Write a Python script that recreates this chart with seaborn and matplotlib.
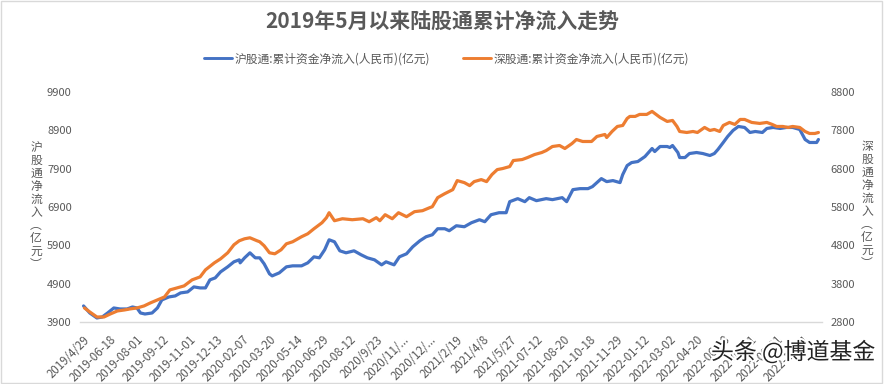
import matplotlib
matplotlib.use("Agg")
import matplotlib.pyplot as plt
import matplotlib.patheffects as pe
from matplotlib.patches import Rectangle
from matplotlib.lines import Line2D
import pandas as pd
import seaborn as sns

# trading-day index -> cumulative net inflow (亿元)
sh_day = [1, 8, 16, 22, 28, 35, 42, 50, 56, 61, 65, 70, 78, 84, 89, 97, 104, 110, 118, 125,
          132, 138, 143, 149, 155, 163, 170, 176, 177, 182, 188, 194, 199, 204, 210, 213, 221,
          229, 236, 246, 253, 260, 266, 272, 277, 283, 289, 296, 305, 313, 320, 328, 336, 341,
          350, 356, 364, 371, 379, 386, 393, 399, 407, 412, 420, 429, 437, 446, 452, 459, 468,
          476, 480, 489, 497, 502, 510, 521, 528, 539, 544, 551, 559, 568, 573, 583, 589, 596,
          604, 607, 612, 617, 624, 632, 640, 643, 649, 657, 660, 663, 669, 671, 677, 682, 690,
          697, 705, 710, 714, 720, 725, 731, 737, 744, 750, 756, 764, 769, 776, 784, 791, 798,
          806, 812, 817, 825, 827]
sh_flow = [4319, 4135, 4005, 4031, 4135, 4266, 4240, 4240, 4292, 4266, 4135, 4109, 4135, 4266,
           4476, 4554, 4580, 4659, 4685, 4816, 4789, 4789, 4999, 5051, 5208, 5339, 5470, 5522,
           5443, 5574, 5705, 5574, 5574, 5417, 5156, 5103, 5182, 5339, 5365, 5365, 5443, 5600,
           5574, 5784, 6045, 5993, 5757, 5705, 5757, 5653, 5574, 5522, 5391, 5470, 5391, 5600,
           5679, 5862, 6019, 6124, 6176, 6333, 6333, 6281, 6411, 6385, 6490, 6568, 6516, 6699,
           6751, 6751, 7039, 7118, 7039, 7144, 7065, 7118, 7092, 7144, 7039, 7353, 7379, 7379,
           7432, 7641, 7562, 7589, 7536, 7745, 7981, 8059, 8086, 8216, 8426, 8347, 8478, 8478,
           8452, 8504, 8321, 8190, 8190, 8295, 8321, 8295, 8243, 8295, 8400, 8583, 8740, 8897,
           9001, 8975, 8844, 8870, 8844, 8949, 8975, 8949, 8975, 8975, 8923, 8661, 8583, 8583,
           8661]

sz_day = [2, 8, 16, 24, 31, 39, 47, 53, 61, 69, 76, 84, 92, 98, 106, 114, 123, 132, 138, 148,
          155, 163, 170, 176, 182, 188, 196, 199, 204, 210, 216, 223, 229, 236, 246, 253, 260,
          269, 274, 277, 283, 292, 303, 315, 322, 330, 334, 340, 348, 355, 364, 373, 382, 390,
          393, 399, 407, 416, 421, 429, 435, 440, 448, 454, 460, 466, 472, 480, 484, 494, 500,
          508, 516, 521, 528, 536, 542, 550, 555, 562, 572, 578, 587, 589, 595, 601, 607, 612,
          615, 621, 626, 634, 640, 643, 649, 657, 663, 668, 671, 679, 686, 691, 699, 705, 710,
          716, 720, 727, 733, 739, 744, 752, 761, 769, 775, 780, 787, 793, 798, 806, 812, 817,
          823, 827]
sz_flow = [3166, 3062, 2931, 2931, 3009, 3088, 3114, 3140, 3166, 3219, 3297, 3376, 3454, 3637,
           3689, 3742, 3899, 3977, 4160, 4343, 4448, 4605, 4814, 4919, 4971, 4997, 4919, 4893,
           4788, 4605, 4579, 4684, 4840, 4893, 5024, 5102, 5233, 5390, 5521, 5651, 5442, 5494,
           5468, 5494, 5416, 5521, 5442, 5599, 5494, 5651, 5547, 5678, 5704, 5782, 5808, 6044,
           6148, 6253, 6489, 6436, 6358, 6462, 6515, 6462, 6646, 6776, 6803, 6855, 7012, 7038,
           7090, 7169, 7221, 7273, 7378, 7404, 7326, 7456, 7561, 7509, 7509, 7640, 7692, 7613,
           7770, 7901, 7927, 8110, 8163, 8163, 8215, 8215, 8294, 8241, 8137, 8032, 8058, 7901,
           7770, 7744, 7770, 7744, 7875, 7797, 7823, 7770, 7927, 8006, 7954, 8084, 8084, 8006,
           7980, 8006, 7954, 7901, 7901, 7875, 7901, 7875, 7770, 7718, 7718, 7744]

tick_labels = ["2019/4/29", "2019-06-18", "2019-08-01", "2019-09-12", "2019-11-01",
               "2019-12-13", "2020-02-07", "2020-03-20", "2020-05-14", "2020-06-29",
               "2020-08-12", "2020/9/23", "2020/11/...", "2020/12/...", "2021/2/19",
               "2021/4/8", "2021/5/27", "2021-07-12", "2021-08-20", "2021-10-18",
               "2021-11-29", "2022-01-12", "2022-03-02", "2022-04-20", "2022-06-08",
               "2022-07-21", "2022-09-01", "2022-10-21"]
left_ticks = [3900, 4900, 5900, 6900, 7900, 8900, 9900]
right_ticks = [2800, 3800, 4800, 5800, 6800, 7800, 8800]

sh_name = "沪股通:累计资金净流入(人民币)(亿元)"
sz_name = "深股通:累计资金净流入(人民币)(亿元)"

sns.set_style("white")
plt.rcParams["font.family"] = ["Noto Sans CJK SC", "DejaVu Sans"]

BLUE = "#4472C4"
ORANGE = "#ED7D31"
GREY = "#595959"

fig = plt.figure(figsize=(8.84, 3.84), dpi=100)
ax = fig.add_axes([80 / 884, 1 - 322 / 384, 742 / 884, 230 / 384])
ax2 = ax.twinx()

sh_df = pd.DataFrame({"day": sh_day, "flow": sh_flow})
sz_df = pd.DataFrame({"day": sz_day, "flow": sz_flow})
sns.lineplot(data=sh_df, x="day", y="flow", ax=ax, color=BLUE, lw=2.3, legend=False)
sns.lineplot(data=sz_df, x="day", y="flow", ax=ax2, color=ORANGE, lw=2.3, legend=False)

ax.set_xlim(-3, 831)
ax.set_ylim(3900, 9900)
ax2.set_ylim(2800, 8800)
ax.set_yticks(left_ticks)
ax2.set_yticks(right_ticks)
ax.set_xticks(range(0, 30 * len(tick_labels), 30))
ax.set_xticklabels(tick_labels, rotation=45, ha="right", va="top",
                   rotation_mode="anchor", fontsize=8.3, color=GREY)
ax.set_xlabel("")
ax.set_ylabel("")
ax2.set_ylabel("")
ax.tick_params(axis="y", length=0, pad=6, labelsize=8, labelcolor=GREY)
ax2.tick_params(axis="y", length=0, pad=6, labelsize=8, labelcolor=GREY)
ax.tick_params(axis="x", length=0, pad=8)

for a in (ax, ax2):
    for s in a.spines.values():
        s.set_visible(False)
ax.spines["bottom"].set_visible(True)
ax.spines["bottom"].set_color("#d9d9d9")
ax.spines["bottom"].set_linewidth(1)

fig.text(0.5, 1 - 22 / 384, "2019年5月以来陆股通累计净流入走势", ha="center", va="center",
         fontsize=15, fontweight="bold", color=GREY)

handles = [Line2D([], [], color=BLUE, lw=2.1), Line2D([], [], color=ORANGE, lw=2.1)]
fig.legend(handles, [sh_name, sz_name], loc="center", bbox_to_anchor=(0.505, 1 - 59 / 384),
           ncol=2, frameon=False, fontsize=8.5, handlelength=2.4, handletextpad=0.2,
           columnspacing=2.8, labelcolor=GREY)

vlabel = lambda s: "\n".join(list(s) + ["︵", "亿", "元", "︶"])
fig.text(36 / 884, 1 - 206 / 384, vlabel("沪股通净流入"), ha="center", va="center",
         fontsize=8.5, color=GREY, linespacing=1.0)
fig.text(867 / 884, 1 - 205 / 384, vlabel("深股通净流入"), ha="center", va="center",
         fontsize=8.5, color=GREY, linespacing=1.0)

fig.text(793 / 884, 1 - 352 / 384, "头条 @博道基金", ha="center", va="center",
         fontsize=16.5, color="#222222",
         path_effects=[pe.withStroke(linewidth=3, foreground="white")])

fig.patches.append(Rectangle((0.001, 0.003), 0.997, 0.994, transform=fig.transFigure,
                             fill=False, edgecolor="#d9d9d9", lw=1))

fig.savefig("out.png", dpi=100)
